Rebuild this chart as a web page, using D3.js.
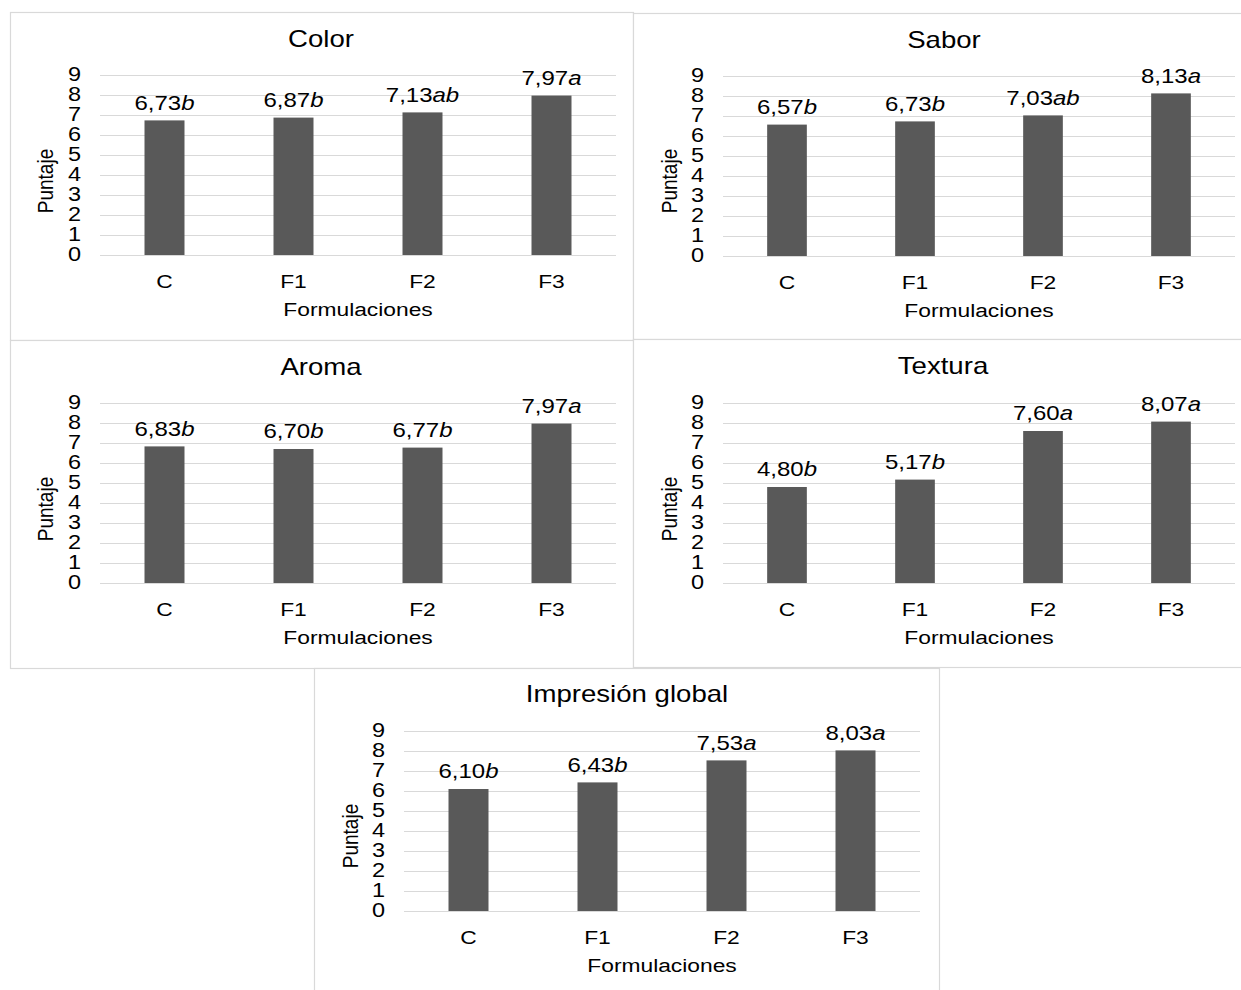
<!DOCTYPE html>
<html>
<head>
<meta charset="utf-8">
<script src="https://cdn.jsdelivr.net/npm/d3@7"></script>
<style>
  html, body { margin: 0; padding: 0; background: #fff; }
  svg { display: block; }
  text { font-family: "Liberation Sans", Arial, sans-serif; fill: #000; }
</style>
</head>
<body>
<svg id="chart" width="1241" height="990"></svg>
<script>
// ---------------- data ----------------
const categories = ["C", "F1", "F2", "F3"];
const yTickValues = [0, 1, 2, 3, 4, 5, 6, 7, 8, 9];
const xAxisTitle = "Formulaciones";
const yAxisTitle = "Puntaje";

const colorValues   = [6.73, 6.87, 7.13, 7.97];
const colorLetters  = ["b", "b", "ab", "a"];
const saborValues   = [6.57, 6.73, 7.03, 8.13];
const saborLetters  = ["b", "b", "ab", "a"];
const aromaValues   = [6.83, 6.70, 6.77, 7.97];
const aromaLetters  = ["b", "b", "b", "a"];
const texturaValues = [4.80, 5.17, 7.60, 8.07];
const texturaLetters = ["b", "b", "a", "a"];
const globalValues  = [6.10, 6.43, 7.53, 8.03];
const globalLetters = ["b", "b", "a", "a"];

const panelTitles = ["Color", "Sabor", "Aroma", "Textura", "Impresión global"];

// ---------------- layout ----------------
const layouts = [
  { box: [10, 12, 633, 340],  plotX: [100, 616], plotY: [255, 75],  titleX: 321, titleY: 39,  yTitleX: 45,  yTitleY: 181 },
  { box: [633, 13, 1250, 339], plotX: [723, 1235], plotY: [256, 76], titleX: 944, titleY: 40,  yTitleX: 669, yTitleY: 181 },
  { box: [10, 340, 633, 668], plotX: [100, 616], plotY: [583, 403], titleX: 321, titleY: 367, yTitleX: 45,  yTitleY: 509 },
  { box: [633, 339, 1250, 667], plotX: [723, 1235], plotY: [583, 403], titleX: 943, titleY: 366, yTitleX: 669, yTitleY: 509 },
  { box: [314, 668, 939, 1000], plotX: [404, 920], plotY: [911, 731], titleX: 627, titleY: 694, yTitleX: 350, yTitleY: 836 }
];

const panelData = [
  { values: colorValues,   letters: colorLetters },
  { values: saborValues,   letters: saborLetters },
  { values: aromaValues,   letters: aromaLetters },
  { values: texturaValues, letters: texturaLetters },
  { values: globalValues,  letters: globalLetters }
];

const SX = 1.2;            // horizontal stretch of the original raster text
const barColor = "#595959";
const gridColor = "#d9d9d9";
const borderColor = "#d9d9d9";
const fmt = d3.formatLocale({ decimal: ",", thousands: ".", grouping: [3], currency: ["", ""] }).format(".2f");

const svg = d3.select("#chart");

function stretchedText(g, x, y, str, size, anchor) {
  return g.append("text")
    .attr("transform", `translate(${x},${y}) scale(${SX},1)`)
    .attr("text-anchor", anchor || "middle")
    .attr("dominant-baseline", "central")
    .style("font-size", size + "px")
    .text(str);
}

layouts.forEach((L, i) => {
  const d = panelData[i];
  const g = svg.append("g");

  // panel border
  g.append("rect")
    .attr("x", L.box[0] + 0.5).attr("y", L.box[1] + 0.5)
    .attr("width", L.box[2] - L.box[0]).attr("height", L.box[3] - L.box[1])
    .attr("fill", "#fff").attr("stroke", borderColor).attr("stroke-width", 1.2);

  const x = d3.scaleBand().domain(categories).range(L.plotX).padding(0);
  const y = d3.scaleLinear().domain([0, 9]).range(L.plotY);
  const barW = x.bandwidth() * 0.31;

  // gridlines
  g.append("g").selectAll("line").data(yTickValues).join("line")
    .attr("x1", L.plotX[0]).attr("x2", L.plotX[1])
    .attr("y1", v => Math.round(y(v)) + 0.5).attr("y2", v => Math.round(y(v)) + 0.5)
    .attr("stroke", gridColor).attr("stroke-width", 1.2);

  // y axis labels
  const yAxis = g.append("g")
    .attr("transform", `translate(${L.plotX[0]},0)`)
    .call(d3.axisLeft(y).tickValues(yTickValues).tickSize(0).tickPadding(19).tickFormat(d3.format("d")));
  yAxis.select(".domain").remove();
  yAxis.selectAll("text")
    .attr("dy", null).attr("y", -2).attr("dominant-baseline", "central")
    .style("font-size", "21px").style("font-family", "Liberation Sans, Arial, sans-serif")
    .attr("fill", "#000")
    .attr("transform", `scale(1.12,1)`)
    .attr("x", -19 / 1.12);

  // x axis labels
  const xAxis = g.append("g")
    .attr("transform", `translate(0,${L.plotY[0]})`)
    .call(d3.axisBottom(x).tickSize(0).tickPadding(0));
  xAxis.select(".domain").remove();
  xAxis.selectAll("text")
    .attr("dy", null).attr("y", 26).attr("dominant-baseline", "central")
    .style("font-size", "19px").style("font-family", "Liberation Sans, Arial, sans-serif")
    .attr("fill", "#000")
    .attr("transform", `scale(${SX},1)`);

  // bars
  g.append("g").selectAll("rect").data(categories).join("rect")
    .attr("x", (c) => x(c) + (x.bandwidth() - barW) / 2)
    .attr("width", barW)
    .attr("y", (c, j) => y(d.values[j]))
    .attr("height", (c, j) => y(0) - y(d.values[j]))
    .attr("fill", barColor);

  // data labels
  const lbl = g.append("g").selectAll("text").data(categories).join("text")
    .attr("transform", (c, j) => `translate(${x(c) + x.bandwidth() / 2},${y(d.values[j]) - 18}) scale(${SX},1)`)
    .attr("text-anchor", "middle")
    .attr("dominant-baseline", "central")
    .style("font-size", "20px");
  lbl.append("tspan").text((c, j) => fmt(d.values[j]));
  lbl.append("tspan").style("font-style", "italic").text((c, j) => d.letters[j]);

  // title
  stretchedText(g, L.titleX, L.titleY, panelTitles[i], 23);

  // x axis title
  stretchedText(g, (L.plotX[0] + L.plotX[1]) / 2, L.plotY[0] + 54, xAxisTitle, 19);

  // y axis title (rotated)
  g.append("text")
    .attr("transform", `translate(${L.yTitleX},${L.yTitleY}) scale(${SX},1) rotate(-90)`)
    .attr("text-anchor", "middle")
    .attr("dominant-baseline", "central")
    .style("font-size", "19px")
    .text(yAxisTitle);
});
</script>
</body>
</html>
